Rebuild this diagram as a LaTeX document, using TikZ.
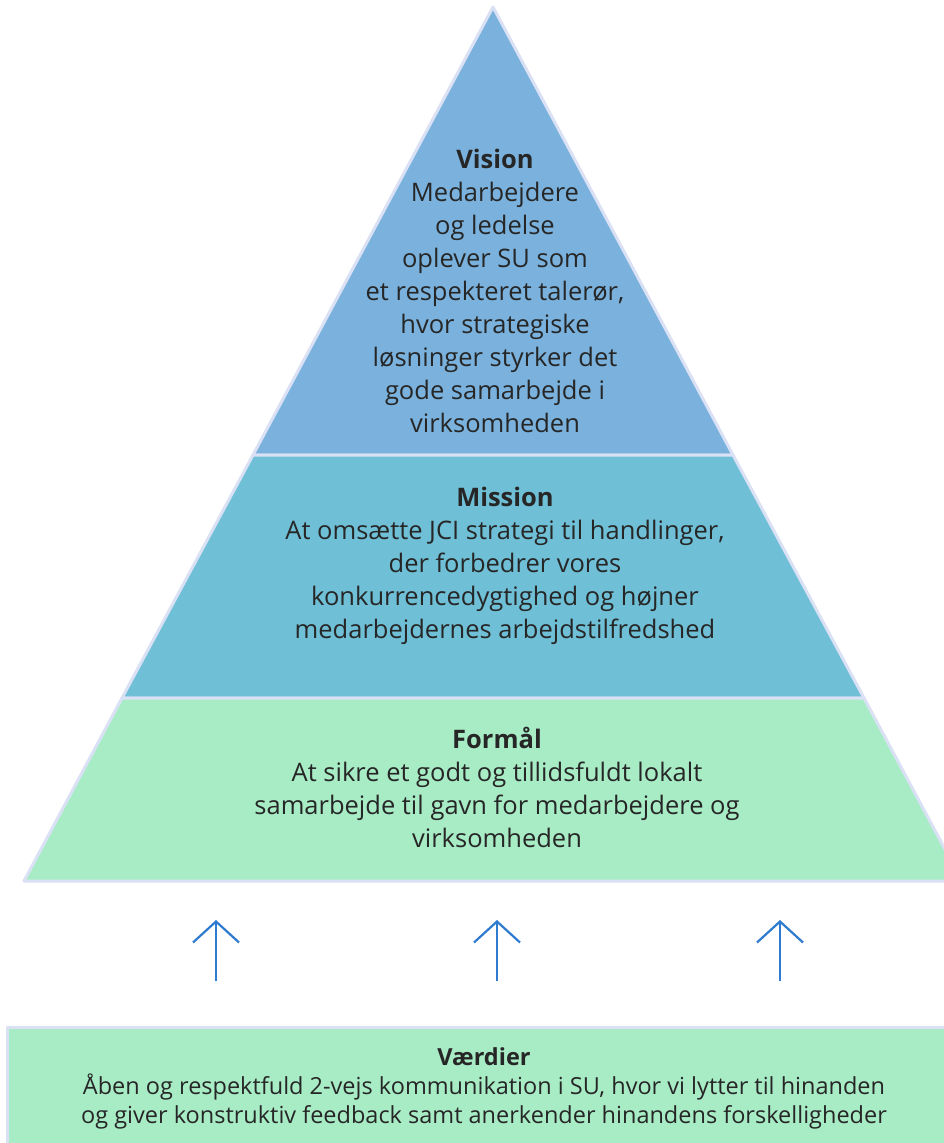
\documentclass[tikz,border=0pt]{standalone}
\usepackage{fontspec}
\setmainfont{Open Sans}
\usetikzlibrary{arrows.meta}
\definecolor{visionblue}{RGB}{122,178,221}
\definecolor{missionblue}{RGB}{111,191,214}
\definecolor{formalgreen}{RGB}{168,236,198}
\definecolor{edgelilac}{RGB}{218,225,245}
\definecolor{textgrey}{RGB}{38,38,38}
\definecolor{arrowblue}{RGB}{46,123,207}
\tikzset{
  layer/.style={draw=edgelilac,line width=3pt},
  layertext/.style={align=center,inner sep=0pt,text=textgrey,font=\fontsize{25.5}{33}\selectfont},
  valuetext/.style={align=center,inner sep=0pt,text=textgrey,font=\fontsize{23.5}{29}\selectfont},
  uparrow/.style={draw=arrowblue,line width=2.2pt,-{Straight Barb[length=21pt,width=46pt]}}
}
\begin{document}
\begin{tikzpicture}[x=1pt,y=-1pt,join=round] % Pyramid layers
       \useasboundingbox (0,0) rectangle (944,1143);
       \clip (0,0) rectangle (944,1143);
       \fill[white] (0,0) rectangle (944,1143);
       \coordinate (apex) at (493,7);
       \coordinate (vl) at (253,455);
       \coordinate (vr) at (733,455);
       \coordinate (ml) at (122,698);
       \coordinate (mr) at (864,698);
       \coordinate (fl) at (24,881);
       \coordinate (fr) at (962,881);
       \filldraw[layer,fill=visionblue](apex)--(vl)--(vr)--cycle;
       \filldraw[layer,fill=missionblue](vl)--(ml)--(mr)--(vr)--cycle;
       \filldraw[layer,fill=formalgreen](ml)--(fl)--(fr)--(mr)--cycle;
       \filldraw[layer,fill=formalgreen](7,1027) rectangle (962,1160);
       \node[layertext] (vision) at (495,291) {\textbf{Vision}\\Medarbejdere\\og ledelse\\oplever SU som\\et respekteret talerør,\\hvor strategiske\\løsninger styrker det\\gode samarbejde i\\virksomheden};
       \node[layertext] (mission) at (505,566) {\textbf{Mission}\\At omsætte JCI strategi til handlinger,\\der forbedrer vores\\konkurrencedygtighed og højner\\medarbejdernes arbejdstilfredshed};
       \node[layertext] (formal) at (497,787) {\textbf{Formål}\\At sikre et godt og tillidsfuldt lokalt\\samarbejde til gavn for medarbejdere og\\virksomheden};
       \node[valuetext] (vaerdier) at (484,1088) {\textbf{Værdier}\\Åben og respektfuld 2-vejs kommunikation i SU, hvor vi lytter til hinanden\\og giver konstruktiv feedback samt anerkender hinandens forskelligheder};
       \foreach \ax/\name in {216/a,497/b,780/c}{
         \coordinate (\name foot) at (\ax,981);
         \coordinate (\name tip) at (\ax,920);
         \draw[uparrow] (\name foot)--(\name tip);
       }
   \end{tikzpicture}
\end{document}
